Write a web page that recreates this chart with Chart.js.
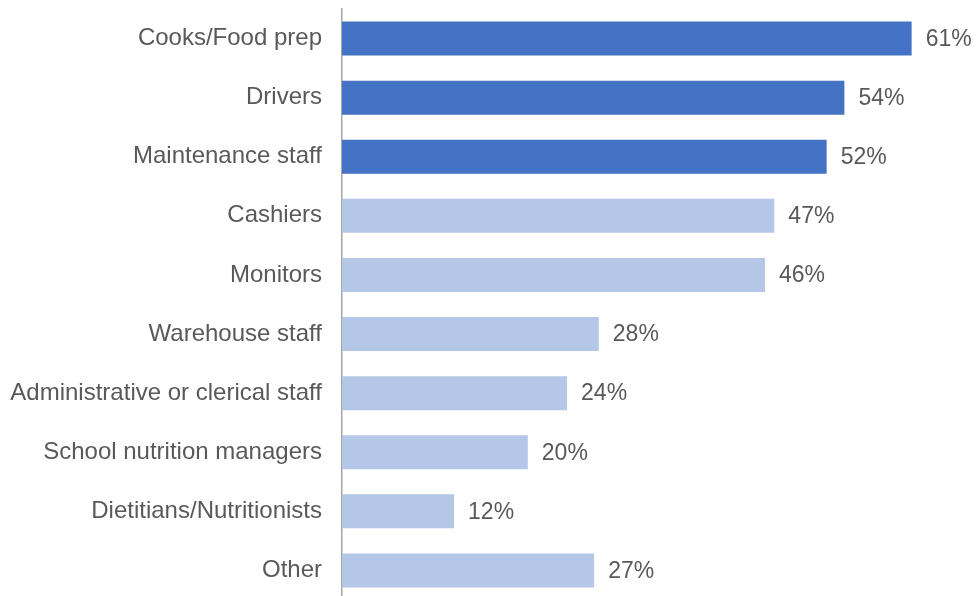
<!DOCTYPE html>
<html>
<head>
<meta charset="utf-8">
<script src="https://cdn.jsdelivr.net/npm/chart.js@4.4.1/dist/chart.umd.min.js"></script>
<style>
  html, body { margin: 0; padding: 0; background: #ffffff; overflow: hidden; }
  #wrap { position: absolute; left: 0; top: 0; width: 979px; height: 600px; }
</style>
</head>
<body>
<div id="wrap"><canvas id="chart"></canvas></div>
<script>
const categories = [
  "Cooks/Food prep",
  "Drivers",
  "Maintenance staff",
  "Cashiers",
  "Monitors",
  "Warehouse staff",
  "Administrative or clerical staff",
  "School nutrition managers",
  "Dietitians/Nutritionists",
  "Other"
];
// bar lengths
const values = [61, 53.8, 51.9, 46.3, 45.3, 27.5, 24.1, 19.9, 12, 27];
// the printed labels
const valueLabels = ["61%", "54%", "52%", "47%", "46%", "28%", "24%", "20%", "12%", "27%"];
const highlighted = [true, true, true, false, false, false, false, false, false, false];

const DARK = "#4472C4";
const LIGHT = "#B4C7E7";
const TEXT = "#595959";
const FONT = "'Liberation Sans', Arial, sans-serif";

// draws the "61%" style labels just past the end of each bar
const barLabelsPlugin = {
  id: "barLabels",
  afterDatasetsDraw(chart) {
    const ctx = chart.ctx;
    const meta = chart.getDatasetMeta(0);
    ctx.save();
    ctx.font = "23px " + FONT;
    ctx.fillStyle = TEXT;
    ctx.textAlign = "left";
    ctx.textBaseline = "middle";
    meta.data.forEach((bar, i) => {
      ctx.fillText(valueLabels[i], bar.x + 14, bar.y + 1);
    });
    ctx.restore();
  }
};

new Chart(document.getElementById("chart"), {
  type: "bar",
  data: {
    labels: categories,
    datasets: [{
      data: values,
      backgroundColor: highlighted.map(h => h ? DARK : LIGHT),
      borderWidth: 0,
      barPercentage: 0.576,
      categoryPercentage: 1
    }]
  },
  options: {
    indexAxis: "y",
    responsive: true,
    maintainAspectRatio: false,
    animation: false,
    layout: { padding: { top: 9, right: 2, bottom: 0, left: 0 } },
    plugins: {
      legend: { display: false },
      tooltip: { enabled: false }
    },
    scales: {
      x: {
        display: false,
        min: 0,
        max: 68
      },
      y: {
        grid: { display: false, drawTicks: false },
        border: { display: true, color: "#A6A6A6", width: 1.5 },
        ticks: {
          color: TEXT,
          font: { family: FONT, size: 24 },
          padding: 20
        },
        afterFit(scale) {
          scale.width = 342;
          scale.paddingTop = 0;
          scale.paddingBottom = 0;
        }
      }
    }
  },
  plugins: [barLabelsPlugin]
});
</script>
</body>
</html>
